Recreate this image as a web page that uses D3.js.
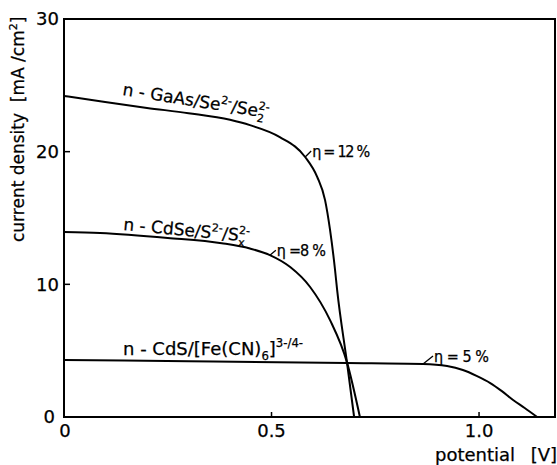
<!DOCTYPE html>
<html>
<head>
<meta charset="utf-8">
<script src="https://cdn.jsdelivr.net/npm/d3@7"></script>
<style>
  body { margin: 0; background: #fff; }
  svg { display: block; font-family: "DejaVu Sans", sans-serif; }
  text { stroke: #000; stroke-width: 0.25px; }
</style>
</head>
<body>
<script>
// I-V curves: potential [V], current density [mA/cm2]
const gaasV = [0, 0.087, 0.2, 0.3, 0.4, 0.448, 0.52, 0.581, 0.61, 0.629, 0.641, 0.653, 0.658, 0.682, 0.699];
const gaasJ = [24.2, 23.8, 23.3, 22.9, 22.4, 22.0, 21.1, 19.6, 18.1, 16.35, 14.1, 11.1, 9.6, 4.07, 0];

const cdseV = [0, 0.087, 0.25, 0.38, 0.448, 0.496, 0.545, 0.593, 0.641, 0.682, 0.713];
const cdseJ = [13.95, 13.87, 13.5, 13.1, 12.7, 12.2, 11.3, 9.8, 7.3, 4.1, 0];

const cdsV = [0, 0.3, 0.682, 0.865, 0.923, 0.961, 0.994, 1.027, 1.055, 1.082, 1.11, 1.14];
const cdsJ = [4.3, 4.2, 4.07, 4.0, 3.84, 3.54, 3.1, 2.56, 1.95, 1.28, 0.68, 0];

const xTicks = [0, 0.5, 1.0];
const xTickLabels = ["0", "0.5", "1.0"];
const yTicks = [0, 10, 20, 30];

const width = 557, height = 465;
const margin = {top: 19, right: 2, bottom: 48, left: 64};

const x = d3.scaleLinear().domain([0, 1.183]).range([margin.left, width - margin.right]);
const y = d3.scaleLinear().domain([0, 30]).range([height - margin.bottom, margin.top]);

const svg = d3.select('body').append('svg')
    .attr('width', width)
    .attr('height', height)
    .attr('viewBox', [0, 0, width, height]);

// frame
svg.append('rect')
    .attr('x', x(0)).attr('y', y(30))
    .attr('width', x.range()[1] - x(0))
    .attr('height', y(0) - y(30))
    .attr('fill', 'none').attr('stroke', '#000').attr('stroke-width', 2);

// inward ticks
svg.append('g').selectAll('line')
    .data(xTicks.filter(d => d > 0))
    .join('line')
    .attr('x1', d => x(d)).attr('x2', d => x(d))
    .attr('y1', y(0)).attr('y2', y(0) - 5)
    .attr('stroke', '#000').attr('stroke-width', 1.5);
svg.append('g').selectAll('line')
    .data(yTicks.filter(d => d > 0 && d < 30))
    .join('line')
    .attr('x1', x(0)).attr('x2', x(0) + 6)
    .attr('y1', d => y(d)).attr('y2', d => y(d))
    .attr('stroke', '#000').attr('stroke-width', 1.5);

// tick labels
svg.append('g').selectAll('text')
    .data(xTicks)
    .join('text')
    .attr('x', (d, i) => x(d) - (i === 0 ? -1 : 0))
    .attr('y', 437)
    .attr('text-anchor', 'middle')
    .attr('font-size', 18)
    .text((d, i) => xTickLabels[i]);
svg.append('g').selectAll('text')
    .data(yTicks)
    .join('text')
    .attr('x', d => d === 0 ? 55 : 59)
    .attr('y', d => y(d))
    .attr('dy', '0.36em')
    .attr('text-anchor', 'end')
    .attr('font-size', 18)
    .text(d => d);

// axis titles
svg.append('text').attr('x', 435).attr('y', 461).attr('font-size', 18).text('potential');
svg.append('text').attr('x', 557).attr('y', 461).attr('text-anchor', 'end').attr('font-size', 18).text('[V]');

const yt = svg.append('text')
    .attr('transform', 'translate(24,242) rotate(-90)')
    .attr('font-size', 17)
    .attr('xml:space', 'preserve');
yt.append('tspan').text('current density  [mA /cm');
yt.append('tspan').attr('font-size', 11).attr('dy', -7).text('2');
yt.append('tspan').attr('dy', 7).text(']');

// curves
const line = d3.line().x(d => x(d[0])).y(d => y(d[1])).curve(d3.curveMonotoneX);
const series = [
  d3.zip(gaasV, gaasJ),
  d3.zip(cdseV, cdseJ),
  d3.zip(cdsV, cdsJ)
];
svg.append('g').selectAll('path')
    .data(series)
    .join('path')
    .attr('d', line)
    .attr('fill', 'none')
    .attr('stroke', '#000')
    .attr('stroke-width', 2);

// labels with sub/superscripts: parts = [text] | [text, 'sup'] | [[sub, sup], 'stack']
function richText(g, parts, size) {
  const t = g.append('text').attr('font-size', size).attr('xml:space', 'preserve');
  const small = size * 0.65, up = -0.42 * size, down = 0.3 * size;
  let shift = 0;
  parts.forEach(([s, kind]) => {
    if (kind === 'stack') {
      const sub = t.append('tspan').attr('dy', down - shift).attr('font-size', small).text(s[0]);
      const w = sub.node().getComputedTextLength();
      t.append('tspan').attr('dx', -w).attr('dy', up - down).attr('font-size', small).text(s[1]);
      shift = up;
      return;
    }
    const target = kind === 'sup' ? up : kind === 'sub' ? down : 0;
    t.append('tspan')
        .attr('dy', target - shift)
        .attr('font-size', kind ? small : size)
        .text(s);
    shift = target;
  });
  return t;
}

richText(svg.append('g').attr('transform', 'translate(122,95) rotate(9)'),
    [['n - GaAs/Se'], ['2-', 'sup'], ['/Se'], [['2', '2-'], 'stack']], 17);
richText(svg.append('g').attr('transform', 'translate(123,230) rotate(5.4)'),
    [['n - CdSe/S'], ['2-', 'sup'], ['/S'], [['x', '2-'], 'stack']], 17);
richText(svg.append('g').attr('transform', 'translate(123,355)'),
    [['n - CdS/[Fe(CN)'], ['6', 'sub'], [']'], ['3-/4-', 'sup']], 18);

// efficiency annotations: leader from curve point to label
const effs = [
  {v: 0.581, j: 19.6, dx: 6, dy: -6, w: 58, label: 'η = 12 %'},
  {v: 0.496, j: 12.2, dx: 6, dy: -5, w: 49, label: 'η =8 %'},
  {v: 0.865, j: 4.0, dx: 10, dy: -8, w: 55, label: 'η = 5 %'}
];
effs.forEach(e => {
  const px = x(e.v), py = y(e.j);
  svg.append('line')
      .attr('x1', px).attr('y1', py)
      .attr('x2', px + e.dx).attr('y2', py + e.dy)
      .attr('stroke', '#000').attr('stroke-width', 1.3);
  svg.append('text')
      .attr('x', px + e.dx + 1).attr('y', py + e.dy + 6)
      .attr('font-family', '"DejaVu Sans Condensed", "DejaVu Sans", sans-serif')
      .attr('font-size', 16)
      .attr('textLength', e.w)
      .attr('lengthAdjust', 'spacing')
      .attr('xml:space', 'preserve')
      .text(e.label);
});
</script>
</body>
</html>
